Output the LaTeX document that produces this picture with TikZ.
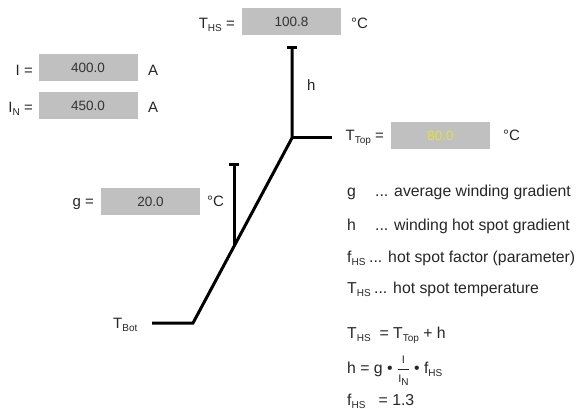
\documentclass[tikz,border=0pt]{standalone}
\usepackage{fontspec}
\setmainfont{Liberation Sans}
\usetikzlibrary{positioning, calc}
\definecolor{boxGray}{RGB}{192, 192, 192}
\definecolor{txtGray}{RGB}{38, 38, 38}
\definecolor{valGray}{RGB}{51, 51, 51}
\definecolor{valYellow}{RGB}{228, 228, 40}
\newcommand{\subtxt}[1]{\raisebox{-3pt}{\fontsize{10}{12}\selectfont #1}}
\newcommand{\smalltxt}[1]{\hbox{\fontsize{11}{12}\selectfont #1}}

\begin{document}
\begin{tikzpicture}[
    x=1pt, y=-1pt,
    font=\fontsize{15}{18}\selectfont,
    text=txtGray,
    valbox/.style={
        rectangle,
        fill=boxGray,
        minimum width=99pt,
        minimum height=27pt,
        inner sep=0pt,
        text=valGray,
        font=\fontsize{13.5}{16}\selectfont
    },
    lbl/.style={
        anchor=base east,
        inner sep=0pt
    },
    unit/.style={
        anchor=base west,
        inner sep=0pt
    },
    txt/.style={
        anchor=base west,
        inner sep=0pt,
        font=\fontsize{15.8}{19}\selectfont
    },
    wire/.style={
        line width=3pt,
        draw=black
    }
]
\useasboundingbox (0,0) rectangle (579,409);

% value boxes
\node[valbox] (hsbox) at (291.5,22) {100.8};
\node[valbox] (ibox) at (88,67.5) {400.0};
\node[valbox] (inbox) at (88,105.5) {450.0};
\node[valbox, text=valYellow] (topbox) at (440.5,135.5) {80.0};
\node[valbox] (gbox) at (150.5,201.5) {20.0};

% labels and units
\node[lbl] (hslbl) at (235,29) {T\subtxt{HS} =};
\node[unit] (hsunit) at (351,29) {°C};
\node[lbl] (ilbl) at (33,76) {I =};
\node[unit] (iunit) at (148,76) {A};
\node[lbl] (inlbl) at (33,113) {I\subtxt{N} =};
\node[unit] (inunit) at (148,113) {A};
\node[lbl] (toplbl) at (384,141) {T\subtxt{Top} =};
\node[unit] (topunit) at (503,141) {°C};
\node[lbl] (glbl) at (94,207) {g =};
\node[unit] (gunit) at (207,207) {°C};
\node[unit] (hlbl) at (307,91) {h};
\node[unit] (botlbl) at (113,328) {T\subtxt{Bot}};

% temperature profile
\coordinate (hstop) at (292,48);
\coordinate (topj) at (292,138);
\coordinate (topend) at (332,138);
\coordinate (botj) at (193,323);
\coordinate (botend) at (152,323);
\coordinate (gtop) at (234,165);
\coordinate (gbot) at (234,245);

\draw[wire] (hstop) -- (topj) -- (botj) -- (botend);
\draw[wire] (topj) -- (topend);
\draw[wire] (gtop) -- (gbot);
\draw[wire] ([xshift=-5pt]hstop) -- ([xshift=5pt]hstop);
\draw[wire] ([xshift=-5pt]gtop) -- ([xshift=5pt]gtop);

% legend
\node[txt] (gsym) at (347,197) {g};
\node[txt] (gdesc) at (375,197) {... average winding gradient};
\node[txt] (hsym) at (347,230) {h};
\node[txt] (hdesc) at (375,230) {... winding hot spot gradient};
\node[txt] (fsym) at (347,262) {f\subtxt{HS}};
\node[txt] (fdesc) at (369,262) {... hot spot factor (parameter)};
\node[txt] (tsym) at (347,294) {T\subtxt{HS}};
\node[txt] (tdesc) at (374,294) {... hot spot temperature};

% equations
\node[txt] (eqhs) at (347,338) {T\subtxt{HS}\ \ = T\subtxt{Top} + h};
\node[txt] (eqh) at (347,373) {h = g • $\displaystyle\frac{\smalltxt{I}}{\smalltxt{I\subtxt{N}}}$ • f\subtxt{HS}};
\node[txt] (eqf) at (347,405) {f\subtxt{HS}\ \ \ = 1.3};

\end{tikzpicture}
\end{document}
